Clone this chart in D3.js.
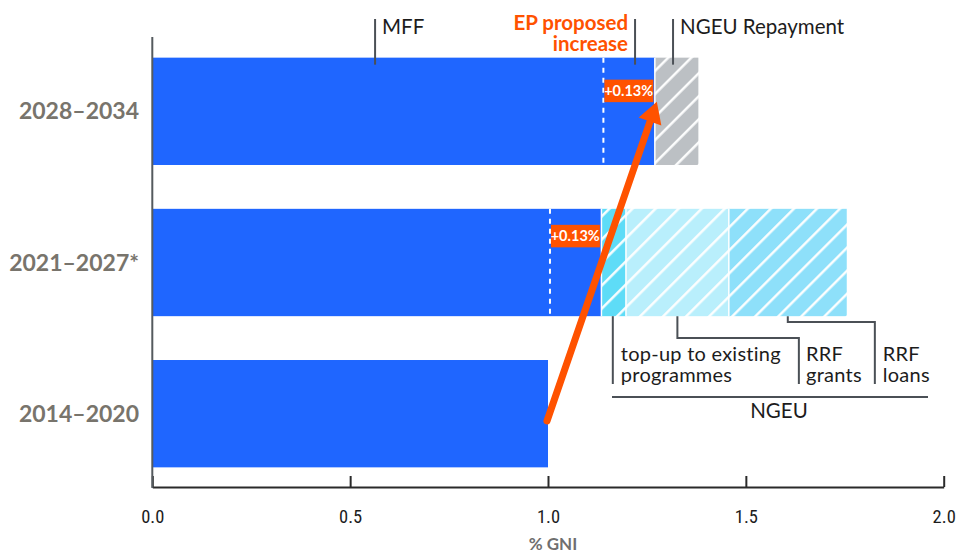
<!DOCTYPE html>
<html>
<head>
<meta charset="utf-8">
<script src="https://cdn.jsdelivr.net/npm/d3@7/dist/d3.min.js"></script>
<style>
  html, body { margin: 0; padding: 0; background: #fff; }
  svg { display: block; font-family: Lato, "Open Sans", sans-serif; }
</style>
</head>
<body>
<svg id="chart" width="959" height="555"></svg>
<script>
// Periods, top to bottom
const periods = ["2028–2034", "2021–2027*", "2014–2020"];
// MFF ceiling, % of GNI
const mffShare = [1.27, 1.135, 1.00];
// Increase over the previous period, % of GNI
const increaseShare = [0.13, 0.13, null];
const increaseLabels = ["+0.13%", "+0.13%", null];
// NGEU components for 2021–2027, % of GNI
const ngeuParts = ["top-up to existing programmes", "RRF grants", "RRF loans"];
const ngeuShare = [0.062, 0.26, 0.298];
// NGEU repayment in 2028–2034, % of GNI
const repaymentShare = 0.11;
// Axis
const xTicks = [0, 0.5, 1.0, 1.5, 2.0];
const xTitle = "% GNI";

const C = {
  blue: "#1f66ff",
  grey: "#bcc0c4",
  topup: "#5edcf7",
  grants: "#b9effc",
  loans: "#8ee0fa",
  orange: "#ff5200",
  leader: "#4b5056",
  ink: "#1c1c1c",
  yLab: "#78746c"
};
const NOTE_SIZE = 20.5;

const svg = d3.select("#chart");
const x = d3.scaleLinear().domain([0, 2]).range([152.3, 943.7]);
const y = d3.scaleBand().domain(periods).range([38, 487]).paddingInner(0.29).paddingOuter(0.13);
const bw = y.bandwidth();

// Hatch patterns
const defs = svg.append("defs");
function hatch(id, bg) {
  const p = defs.append("pattern").attr("id", id)
    .attr("patternUnits", "userSpaceOnUse")
    .attr("width", 16.3).attr("height", 16.3)
    .attr("patternTransform", "rotate(45)");
  p.append("rect").attr("width", 16.3).attr("height", 16.3).attr("fill", bg);
  p.append("line").attr("x1", 8).attr("x2", 8).attr("y1", -1).attr("y2", 17.3)
    .attr("stroke", "#fff").attr("stroke-width", 2.4);
}
hatch("h-grey", C.grey);
hatch("h-topup", C.topup);
hatch("h-grants", C.grants);
hatch("h-loans", C.loans);

// Segments: MFF bars, NGEU stack, repayment
const segments = [];
periods.forEach((p, i) => segments.push({ period: p, x0: 0, x1: mffShare[i], fill: C.blue }));
const ngeuFills = ["url(#h-topup)", "url(#h-grants)", "url(#h-loans)"];
let acc = mffShare[1];
ngeuShare.forEach((v, j) => {
  segments.push({ period: periods[1], x0: acc, x1: acc + v, fill: ngeuFills[j], part: ngeuParts[j] });
  acc += v;
});
segments.push({ period: periods[0], x0: mffShare[0], x1: mffShare[0] + repaymentShare, fill: "url(#h-grey)" });

svg.append("g").selectAll("rect").data(segments).join("rect")
  .attr("x", d => x(d.x0))
  .attr("y", d => y(d.period))
  .attr("width", d => x(d.x1) - x(d.x0))
  .attr("height", bw)
  .attr("fill", d => d.fill);

// White separators between stacked segments
svg.append("g").selectAll("line").data(segments.filter(d => d.x0 > 0)).join("line")
  .attr("x1", d => x(d.x0)).attr("x2", d => x(d.x0))
  .attr("y1", d => y(d.period)).attr("y2", d => y(d.period) + bw)
  .attr("stroke", "#fff").attr("stroke-width", 1.5);

// Dashed reference lines and increase labels
const incData = periods.map((p, i) => ({ p, v: mffShare[i], inc: increaseShare[i], lab: increaseLabels[i] }))
  .filter(d => d.inc != null);
const labelTop = { "2028–2034": 22, "2021–2027*": 16 };
svg.append("g").selectAll("line").data(incData).join("line")
  .attr("x1", d => x(d.v - d.inc)).attr("x2", d => x(d.v - d.inc))
  .attr("y1", d => y(d.p)).attr("y2", d => y(d.p) + bw)
  .attr("stroke", "#fff").attr("stroke-width", 2).attr("stroke-dasharray", "5,5");
const lab = svg.append("g").selectAll("g").data(incData).join("g");
lab.append("rect")
  .attr("x", d => x(d.v - d.inc) + 1)
  .attr("y", d => y(d.p) + labelTop[d.p])
  .attr("width", d => x(d.v) - x(d.v - d.inc) - 2.5)
  .attr("height", 22.5)
  .attr("fill", C.orange);
lab.append("text")
  .attr("x", d => (x(d.v - d.inc) + x(d.v)) / 2 - 0.5)
  .attr("y", d => y(d.p) + labelTop[d.p] + 16.5)
  .attr("text-anchor", "middle")
  .attr("fill", "#fff").attr("font-weight", 700).attr("font-size", 14.5)
  .text(d => d.lab);

// Axes
const xAxis = svg.append("g").attr("transform", "translate(0,487)")
  .call(d3.axisBottom(x).tickValues(xTicks).tickFormat(d3.format(".1f"))
    .tickSize(-11).tickSizeOuter(0).tickPadding(23));
xAxis.select(".domain").attr("stroke", "#2a2a2a").attr("stroke-width", 2);
xAxis.selectAll(".tick line").attr("stroke", "#2a2a2a").attr("stroke-width", 2);
xAxis.selectAll(".tick text").attr("font-family", "'Liberation Sans Narrow', 'Roboto Condensed', Lato, sans-serif")
  .attr("font-size", 18.5).attr("fill", "#1c1c1c");

svg.append("line").attr("x1", x(0)).attr("x2", x(0)).attr("y1", 37).attr("y2", 488)
  .attr("stroke", "#555a5e").attr("stroke-width", 2);

svg.append("text").attr("x", 553).attr("y", 550).attr("text-anchor", "middle")
  .attr("font-family", "'Liberation Sans Narrow', Lato, sans-serif")
  .attr("font-weight", 700).attr("font-size", 17).attr("fill", "#6f6f6f").text(xTitle);

svg.append("g").selectAll("text").data(periods).join("text")
  .attr("x", 139).attr("y", d => y(d) + bw / 2 + 8)
  .attr("text-anchor", "end").attr("font-weight", 700).attr("font-size", 23)
  .attr("fill", C.yLab).text(d => d);

// Arrow from the 2014–2020 bar end to the 2028–2034 bar end
const a0 = [x(mffShare[2]) - 1, y(periods[2]) + 61];
const a1 = [x(mffShare[0]) + 2, y(periods[0]) + 44];
const len = Math.hypot(a1[0] - a0[0], a1[1] - a0[1]);
const ux = (a1[0] - a0[0]) / len, uy = (a1[1] - a0[1]) / len;
const headL = 21, headW = 12;
const base = [a1[0] - ux * headL, a1[1] - uy * headL];
svg.append("line").attr("x1", a0[0]).attr("y1", a0[1])
  .attr("x2", base[0] + ux * 2).attr("y2", base[1] + uy * 2)
  .attr("stroke", C.orange).attr("stroke-width", 7).attr("stroke-linecap", "round");
svg.append("path")
  .attr("d", `M${a1[0]},${a1[1]}L${base[0] - uy * headW},${base[1] + ux * headW}L${base[0] + uy * headW},${base[1] - ux * headW}Z`)
  .attr("fill", C.orange);

// Top annotations
const topY = y(periods[0]);
const topNotes = [
  { v: 0.563, text: ["MFF"], anchor: "start", dx: 7, color: C.ink, weight: 400 },
  { v: 1.22, text: ["EP proposed", "increase"], anchor: "end", dx: -7, color: C.orange, weight: 700 },
  { v: 1.316, text: ["NGEU Repayment"], anchor: "start", dx: 7, color: C.ink, weight: 400 }
];
const tn = svg.append("g").selectAll("g").data(topNotes).join("g");
tn.append("line").attr("x1", d => x(d.v)).attr("x2", d => x(d.v))
  .attr("y1", 19).attr("y2", topY + 7).attr("stroke", C.leader).attr("stroke-width", 2);
tn.each(function(d) {
  const t = d3.select(this).append("text")
    .attr("text-anchor", d.anchor).attr("font-size", NOTE_SIZE).attr("font-weight", d.weight).attr("fill", d.color);
  d.text.forEach((s, k) => t.append("tspan").attr("x", x(d.v) + d.dx).attr("y", (d.text.length > 1 ? 30 : 34) + k * 21).text(s));
});

// NGEU leader lines below the 2021–2027 bar
const barBottom = y(periods[1]) + bw;
const ngeuSegs = segments.filter(d => d.part);
const lowX = [null, 1.634, 1.826];     // elbow columns for grants and loans
const elbowY = [null, 338, 322];
const textX = [1.184, 1.652, 1.846];
const ld = svg.append("g").attr("fill", "none").attr("stroke", C.leader).attr("stroke-width", 2);
ngeuSegs.forEach((s, j) => {
  const mx = x((s.x0 + s.x1) / 2);
  const pts = j === 0
    ? [[x(textX[0]) - 8, barBottom], [x(textX[0]) - 8, 384]]
    : [[mx, barBottom], [mx, elbowY[j]], [x(lowX[j]), elbowY[j]], [x(lowX[j]), 384]];
  ld.append("path").attr("d", d3.line()(pts));
});
const partLines = [["top-up to existing", "programmes"], ["RRF", "grants"], ["RRF", "loans"]];
partLines.forEach((ls, j) => {
  const t = svg.append("text").attr("font-size", 20).attr("letter-spacing", 0.25).attr("fill", C.ink);
  ls.forEach((s, k) => t.append("tspan").attr("x", x(textX[j])).attr("y", 361 + k * 21).text(s));
});
svg.append("line").attr("x1", 612).attr("x2", 928).attr("y1", 397).attr("y2", 397)
  .attr("stroke", C.leader).attr("stroke-width", 2);
svg.append("text").attr("x", 779).attr("y", 418).attr("text-anchor", "middle")
  .attr("font-size", NOTE_SIZE).attr("fill", C.ink).text("NGEU");
</script>
</body>
</html>
